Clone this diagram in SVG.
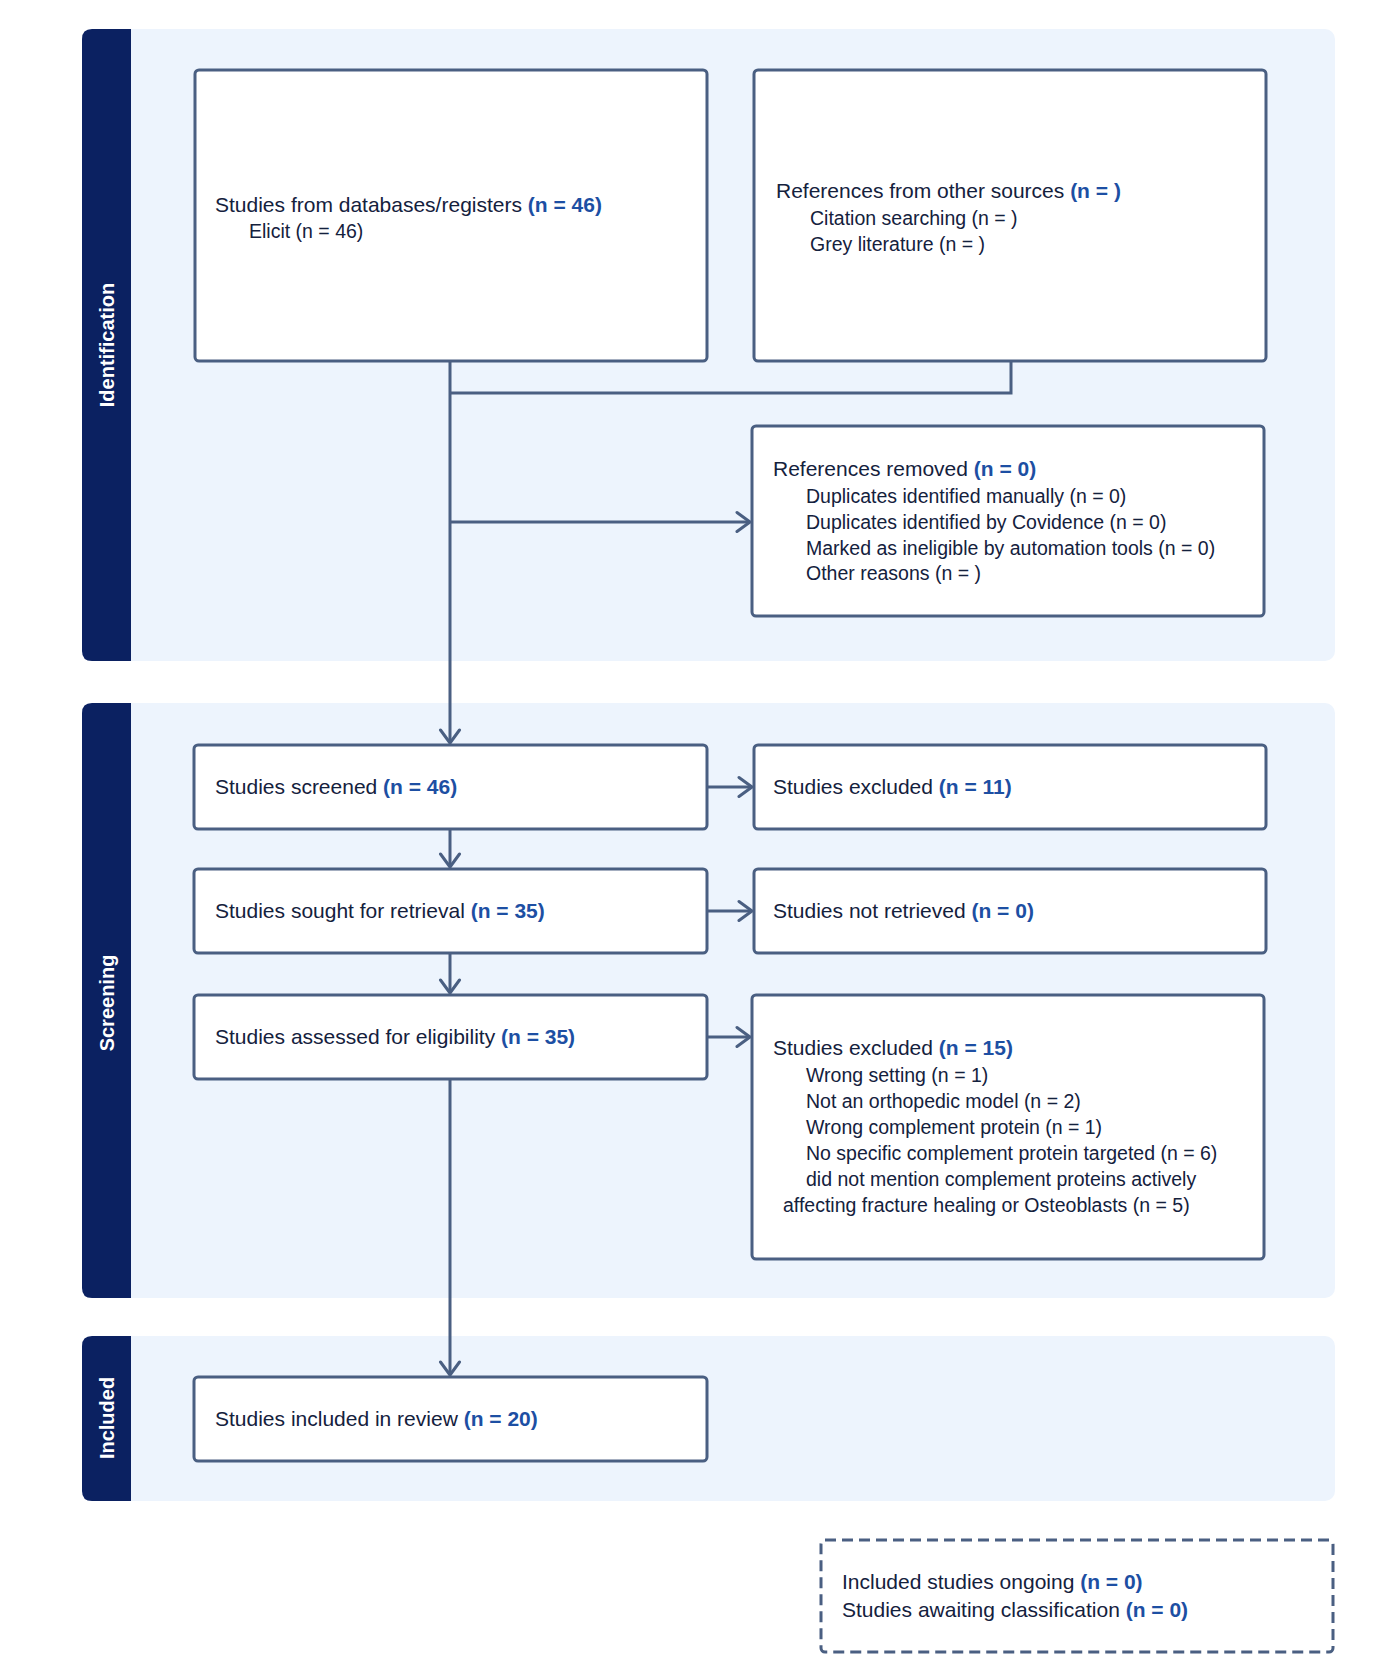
<svg xmlns="http://www.w3.org/2000/svg" width="1400" height="1667" viewBox="0 0 1400 1667">
<style>
.panel{fill:#edf4fd}
.bar{fill:#0b2161}
.lab{font-family:"Liberation Sans",Arial,sans-serif;font-weight:bold;font-size:20px;fill:#ffffff}
.box{fill:#ffffff;stroke:#4a5f82;stroke-width:3}
.dash{fill:#ffffff;stroke:#4a5f82;stroke-width:3;stroke-dasharray:11 6}
.t{font-family:"Liberation Sans",Arial,sans-serif;font-size:21px;fill:#14213d}
.s{font-family:"Liberation Sans",Arial,sans-serif;font-size:19.5px;fill:#14213d}
.n{font-weight:bold;fill:#1d4fa3}
.c{fill:none;stroke:#4a5f82;stroke-width:3}
</style>
<defs>
<marker id="ah" markerUnits="userSpaceOnUse" viewBox="-16 -12 18 24" refX="0" refY="0" markerWidth="18" markerHeight="24" orient="auto">
<path d="M-13,-9.5 L0,0 L-13,9.5" fill="none" stroke="#4a5f82" stroke-width="3" stroke-linecap="round" stroke-linejoin="round"/>
</marker>
</defs>
<rect width="1400" height="1667" fill="#ffffff"/>

<g id="phase-identification">
<rect class="panel" x="82" y="29" width="1253" height="632" rx="10"/>
<path class="bar" d="M92,29 H131 V661 H92 Q82,661 82,651 V39 Q82,29 92,29 Z"/>
<text class="lab" transform="translate(107,345) rotate(-90)" text-anchor="middle" dominant-baseline="central">Identification</text>
</g>
<g id="phase-screening">
<rect class="panel" x="82" y="703" width="1253" height="595" rx="10"/>
<path class="bar" d="M92,703 H131 V1298 H92 Q82,1298 82,1288 V713 Q82,703 92,703 Z"/>
<text class="lab" transform="translate(107,1003) rotate(-90)" text-anchor="middle" dominant-baseline="central">Screening</text>
</g>
<g id="phase-included">
<rect class="panel" x="82" y="1336" width="1253" height="165" rx="10"/>
<path class="bar" d="M92,1336 H131 V1501 H92 Q82,1501 82,1491 V1346 Q82,1336 92,1336 Z"/>
<text class="lab" transform="translate(107,1418) rotate(-90)" text-anchor="middle" dominant-baseline="central">Included</text>
</g>

<g id="connectors">
<path class="c" d="M450,361 V743" marker-end="url(#ah)"/>
<path class="c" d="M1011,361 V393 H450"/>
<path class="c" d="M450,522 H750" marker-end="url(#ah)"/>
<path class="c" d="M707,787 H752" marker-end="url(#ah)"/>
<path class="c" d="M450,829 V867" marker-end="url(#ah)"/>
<path class="c" d="M707,911 H752" marker-end="url(#ah)"/>
<path class="c" d="M450,953 V993" marker-end="url(#ah)"/>
<path class="c" d="M707,1037 H750" marker-end="url(#ah)"/>
<path class="c" d="M450,1079 V1375" marker-end="url(#ah)"/>
</g>

<g id="node-databases">
<rect class="box" x="195" y="70" width="512" height="291" rx="4"/>
<text class="t" x="215" y="212">Studies from databases/registers <tspan class="n">(n = 46)</tspan></text>
<text class="s" x="249" y="238">Elicit (n = 46)</text>
</g>
<g id="node-other-sources">
<rect class="box" x="754" y="70" width="512" height="291" rx="4"/>
<text class="t" x="776" y="198">References from other sources <tspan class="n">(n = )</tspan></text>
<text class="s" x="810" y="225">Citation searching (n = )</text>
<text class="s" x="810" y="251">Grey literature (n = )</text>
</g>
<g id="node-removed">
<rect class="box" x="752" y="426" width="512" height="190" rx="4"/>
<text class="t" x="773" y="476">References removed <tspan class="n">(n = 0)</tspan></text>
<text class="s" x="806" y="503">Duplicates identified manually (n = 0)</text>
<text class="s" x="806" y="529">Duplicates identified by Covidence (n = 0)</text>
<text class="s" x="806" y="555">Marked as ineligible by automation tools (n = 0)</text>
<text class="s" x="806" y="580">Other reasons (n = )</text>
</g>
<g id="node-screened">
<rect class="box" x="194" y="745" width="513" height="84" rx="4"/>
<text class="t" x="215" y="794">Studies screened <tspan class="n">(n = 46)</tspan></text>
</g>
<g id="node-excluded-screen">
<rect class="box" x="754" y="745" width="512" height="84" rx="4"/>
<text class="t" x="773" y="794">Studies excluded <tspan class="n">(n = 11)</tspan></text>
</g>
<g id="node-sought">
<rect class="box" x="194" y="869" width="513" height="84" rx="4"/>
<text class="t" x="215" y="918">Studies sought for retrieval <tspan class="n">(n = 35)</tspan></text>
</g>
<g id="node-not-retrieved">
<rect class="box" x="754" y="869" width="512" height="84" rx="4"/>
<text class="t" x="773" y="918">Studies not retrieved <tspan class="n">(n = 0)</tspan></text>
</g>
<g id="node-assessed">
<rect class="box" x="194" y="995" width="513" height="84" rx="4"/>
<text class="t" x="215" y="1044">Studies assessed for eligibility <tspan class="n">(n = 35)</tspan></text>
</g>
<g id="node-excluded-eligibility">
<rect class="box" x="752" y="995" width="512" height="264" rx="4"/>
<text class="t" x="773" y="1055">Studies excluded <tspan class="n">(n = 15)</tspan></text>
<text class="s" x="806" y="1082">Wrong setting (n = 1)</text>
<text class="s" x="806" y="1108">Not an orthopedic model (n = 2)</text>
<text class="s" x="806" y="1134">Wrong complement protein (n = 1)</text>
<text class="s" x="806" y="1160">No specific complement protein targeted (n = 6)</text>
<text class="s" x="806" y="1186">did not mention complement proteins actively</text>
<text class="s" x="783" y="1212">affecting fracture healing or Osteoblasts (n = 5)</text>
</g>
<g id="node-included">
<rect class="box" x="194" y="1377" width="513" height="84" rx="4"/>
<text class="t" x="215" y="1426">Studies included in review <tspan class="n">(n = 20)</tspan></text>
</g>
<g id="node-ongoing">
<rect class="dash" x="821" y="1540" width="512" height="112" rx="4"/>
<text class="t" x="842" y="1589">Included studies ongoing <tspan class="n">(n = 0)</tspan></text>
<text class="t" x="842" y="1617">Studies awaiting classification <tspan class="n">(n = 0)</tspan></text>
</g>
</svg>
